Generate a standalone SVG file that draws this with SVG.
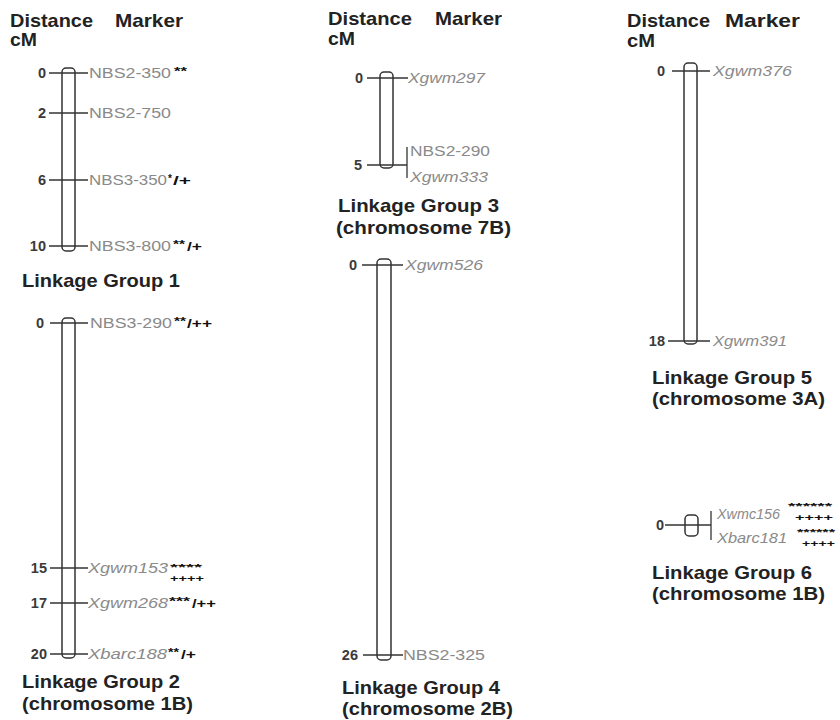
<svg xmlns="http://www.w3.org/2000/svg" width="840" height="720" viewBox="0 0 840 720">
<style>
.hd{font-family:"Liberation Sans",Arial,sans-serif;font-weight:bold;font-size:19px;fill:#222}
.num{font-family:"Liberation Sans",Arial,sans-serif;font-weight:bold;font-size:14.5px;fill:#3a3a3a;text-anchor:end}
.mk{font-family:"Liberation Sans",Arial,sans-serif;font-size:14px;fill:#8a8a8a}
.it{font-style:italic}
.st{font-family:"Liberation Sans",Arial,sans-serif;font-weight:bold;font-size:10px;fill:#111}
.pl{font-family:"Liberation Sans",Arial,sans-serif;font-weight:bold;font-size:12px;fill:#111}
.sm{font-size:9px}
.bar{fill:#fff;stroke:#333;stroke-width:1.5}
.tk{stroke:#333;stroke-width:1.3;fill:none}
</style>
<rect width="840" height="720" fill="#fff"/>
<g id="headers">
<text class="hd" x="10" y="27" textLength="83" lengthAdjust="spacingAndGlyphs">Distance</text>
<text class="hd" x="115" y="27" textLength="68" lengthAdjust="spacingAndGlyphs">Marker</text>
<text class="hd" x="10" y="46" textLength="27" lengthAdjust="spacingAndGlyphs">cM</text>
<text class="hd" x="328" y="25" textLength="84" lengthAdjust="spacingAndGlyphs">Distance</text>
<text class="hd" x="435" y="25" textLength="67" lengthAdjust="spacingAndGlyphs">Marker</text>
<text class="hd" x="328" y="45" textLength="27" lengthAdjust="spacingAndGlyphs">cM</text>
<text class="hd" x="627" y="27" textLength="83" lengthAdjust="spacingAndGlyphs">Distance</text>
<text class="hd" x="725" y="27" textLength="75" lengthAdjust="spacingAndGlyphs">Marker</text>
<text class="hd" x="627" y="47" textLength="28" lengthAdjust="spacingAndGlyphs">cM</text>
</g>
<g id="lg1">
<rect class="bar" x="62" y="68" width="13" height="183" rx="4"/>
<g class="tk"><line x1="49" y1="73" x2="88" y2="73"/><line x1="49" y1="113" x2="88" y2="113"/><line x1="49" y1="180" x2="88" y2="180"/><line x1="49" y1="246" x2="88" y2="246"/></g>
<text class="num" x="46" y="78">0</text>
<text class="num" x="46" y="118">2</text>
<text class="num" x="46" y="185">6</text>
<text class="num" x="46" y="251">10</text>
<text class="mk" x="89" y="78" textLength="82" lengthAdjust="spacingAndGlyphs">NBS2-350</text>
<text class="st" x="174" y="75" textLength="13" lengthAdjust="spacingAndGlyphs">**</text>
<text class="mk" x="89" y="118" textLength="82" lengthAdjust="spacingAndGlyphs">NBS2-750</text>
<text class="mk" x="89" y="185" textLength="78" lengthAdjust="spacingAndGlyphs">NBS3-350</text>
<text class="st" x="168" y="182">*</text>
<text class="pl" x="173" y="185" textLength="18" lengthAdjust="spacingAndGlyphs">/+</text>
<text class="mk" x="89" y="251" textLength="82" lengthAdjust="spacingAndGlyphs">NBS3-800</text>
<text class="st" x="173" y="248" textLength="12" lengthAdjust="spacingAndGlyphs">**</text>
<text class="pl" x="187" y="251" textLength="15" lengthAdjust="spacingAndGlyphs">/+</text>
<text class="hd" x="22" y="287" textLength="158" lengthAdjust="spacingAndGlyphs">Linkage Group 1</text>
</g>
<g id="lg2">
<rect class="bar" x="62" y="318" width="13" height="340" rx="4"/>
<g class="tk"><line x1="50" y1="323" x2="88" y2="323"/><line x1="50" y1="568" x2="88" y2="568"/><line x1="50" y1="603" x2="88" y2="603"/><line x1="50" y1="654" x2="88" y2="654"/></g>
<text class="num" x="44" y="328">0</text>
<text class="num" x="47" y="573">15</text>
<text class="num" x="47" y="608">17</text>
<text class="num" x="47" y="659">20</text>
<text class="mk" x="90" y="328" textLength="82" lengthAdjust="spacingAndGlyphs">NBS3-290</text>
<text class="st" x="174" y="325" textLength="12" lengthAdjust="spacingAndGlyphs">**</text>
<text class="pl" x="187" y="328" textLength="25" lengthAdjust="spacingAndGlyphs">/++</text>
<text class="mk it" x="88" y="573" textLength="80" lengthAdjust="spacingAndGlyphs">Xgwm153</text>
<text class="st sm" x="170" y="570" textLength="32" lengthAdjust="spacingAndGlyphs">****</text>
<text class="pl sm" x="170" y="582" textLength="34" lengthAdjust="spacingAndGlyphs">++++</text>
<text class="mk it" x="88" y="608" textLength="80" lengthAdjust="spacingAndGlyphs">Xgwm268</text>
<text class="st" x="169" y="605" textLength="21" lengthAdjust="spacingAndGlyphs">***</text>
<text class="pl" x="192" y="608" textLength="24" lengthAdjust="spacingAndGlyphs">/++</text>
<text class="mk it" x="88" y="659" textLength="79" lengthAdjust="spacingAndGlyphs">Xbarc188</text>
<text class="st" x="168" y="656" textLength="11" lengthAdjust="spacingAndGlyphs">**</text>
<text class="pl" x="181" y="659" textLength="15" lengthAdjust="spacingAndGlyphs">/+</text>
<text class="hd" x="22" y="688" textLength="158" lengthAdjust="spacingAndGlyphs">Linkage Group 2</text>
<text class="hd" x="22" y="710" textLength="171" lengthAdjust="spacingAndGlyphs">(chromosome 1B)</text>
</g>
<g id="lg3">
<rect class="bar" x="380" y="72" width="13" height="96" rx="4"/>
<g class="tk"><line x1="367" y1="78" x2="408" y2="78"/><line x1="367" y1="165" x2="407" y2="165"/><line x1="407" y1="147" x2="407" y2="178"/></g>
<text class="num" x="363" y="83">0</text>
<text class="num" x="362" y="170">5</text>
<text class="mk it" x="408" y="83" textLength="77" lengthAdjust="spacingAndGlyphs">Xgwm297</text>
<text class="mk" x="410" y="156" textLength="80" lengthAdjust="spacingAndGlyphs">NBS2-290</text>
<text class="mk it" x="410" y="182" textLength="78" lengthAdjust="spacingAndGlyphs">Xgwm333</text>
<text class="hd" x="338" y="212" textLength="161" lengthAdjust="spacingAndGlyphs">Linkage Group 3</text>
<text class="hd" x="336" y="234" textLength="175" lengthAdjust="spacingAndGlyphs">(chromosome 7B)</text>
</g>
<g id="lg4">
<rect class="bar" x="377" y="259" width="14" height="401" rx="4"/>
<g class="tk"><line x1="362" y1="265" x2="403" y2="265"/><line x1="363" y1="655" x2="403" y2="655"/></g>
<text class="num" x="357" y="270">0</text>
<text class="num" x="358" y="660">26</text>
<text class="mk it" x="405" y="270" textLength="78" lengthAdjust="spacingAndGlyphs">Xgwm526</text>
<text class="mk" x="403" y="660" textLength="82" lengthAdjust="spacingAndGlyphs">NBS2-325</text>
<text class="hd" x="342" y="694" textLength="158" lengthAdjust="spacingAndGlyphs">Linkage Group 4</text>
<text class="hd" x="342" y="715" textLength="171" lengthAdjust="spacingAndGlyphs">(chromosome 2B)</text>
</g>
<g id="lg5">
<rect class="bar" x="684" y="63" width="13" height="281" rx="4"/>
<g class="tk"><line x1="672" y1="71" x2="710" y2="71"/><line x1="668" y1="341" x2="710" y2="341"/></g>
<text class="num" x="665" y="76">0</text>
<text class="num" x="665" y="346">18</text>
<text class="mk it" x="713" y="76" textLength="79" lengthAdjust="spacingAndGlyphs">Xgwm376</text>
<text class="mk it" x="713" y="346" textLength="74" lengthAdjust="spacingAndGlyphs">Xgwm391</text>
<text class="hd" x="652" y="384" textLength="160" lengthAdjust="spacingAndGlyphs">Linkage Group 5</text>
<text class="hd" x="652" y="405" textLength="173" lengthAdjust="spacingAndGlyphs">(chromosome 3A)</text>
</g>
<g id="lg6">
<rect class="bar" x="685" y="515" width="13" height="21" rx="4"/>
<g class="tk"><line x1="665" y1="525" x2="711" y2="525"/><line x1="711" y1="511" x2="711" y2="540"/></g>
<text class="num" x="664" y="530">0</text>
<text class="mk it" x="717" y="519" textLength="63" lengthAdjust="spacingAndGlyphs">Xwmc156</text>
<text class="st sm" x="788" y="509" textLength="44" lengthAdjust="spacingAndGlyphs">******</text>
<text class="pl sm" x="795" y="521" textLength="38" lengthAdjust="spacingAndGlyphs">++++</text>
<text class="mk it" x="717" y="543" textLength="70" lengthAdjust="spacingAndGlyphs">Xbarc181</text>
<text class="st sm" x="797" y="535" textLength="38" lengthAdjust="spacingAndGlyphs">******</text>
<text class="pl sm" x="802" y="547" textLength="33" lengthAdjust="spacingAndGlyphs">++++</text>
<text class="hd" x="652" y="579" textLength="160" lengthAdjust="spacingAndGlyphs">Linkage Group 6</text>
<text class="hd" x="652" y="600" textLength="173" lengthAdjust="spacingAndGlyphs">(chromosome 1B)</text>
</g>
<g id="connectors"></g>
</svg>
